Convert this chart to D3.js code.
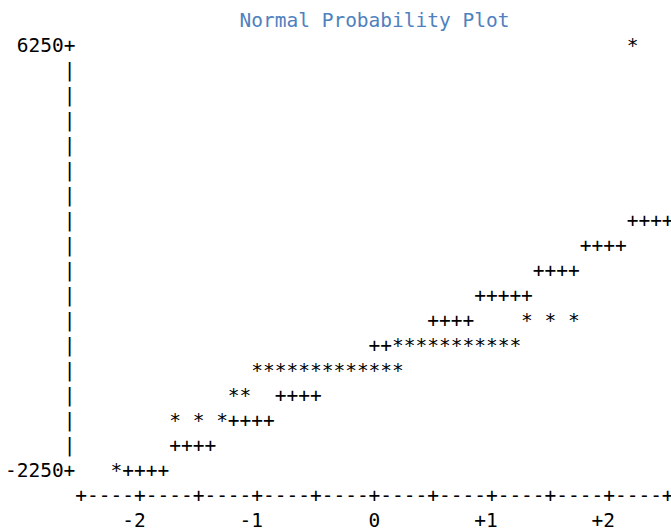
<!DOCTYPE html>
<html>
<head>
<meta charset="utf-8">
<script src="https://cdn.jsdelivr.net/npm/d3@7"></script>
<style>
  body { margin: 0; background: #fff; }
  text { font-family: "DejaVu Sans Mono", "Liberation Mono", monospace; font-size: 19.5px; }
</style>
</head>
<body>
<div id="chart"></div>
<script>
// observations (normal quantile, value) -> drawn as '*'
var obsZ = [-2.2,
  -1.7, -1.5, -1.3,
  -1.2, -1.1,
  -1.0, -0.9, -0.8, -0.7, -0.6, -0.5, -0.4, -0.3, -0.2, -0.1, 0.0, 0.1, 0.2,
  0.2, 0.3, 0.4, 0.5, 0.6, 0.7, 0.8, 0.9, 1.0, 1.1, 1.2,
  1.3, 1.5, 1.7,
  2.2];
var obsY = [-2250,
  -1250, -1250, -1250,
  -750, -750,
  -250, -250, -250, -250, -250, -250, -250, -250, -250, -250, -250, -250, -250,
  250, 250, 250, 250, 250, 250, 250, 250, 250, 250, 250,
  750, 750, 750,
  6250];

var refY  = [-2250, -1750, -1250, -750, -250, 250, 750, 1250, 1750, 2250, 2750];
var refZ0 = [-2.2, -1.7, -1.3, -0.8, -0.4, 0.0, 0.5, 0.9, 1.4, 1.8, 2.2];
var refZ1 = [-1.8, -1.4, -0.9, -0.5, -0.1, 0.4, 0.8, 1.3, 1.7, 2.1, 2.5];

var xTicks = [-2, -1, 0, 1, 2];
var xTickLabels = ["-2", "-1", "0", "+1", "+2"];
var yTicks = [6250, -2250];
var yTickLabels = ["6250", "-2250"];
var title = "Normal Probability Plot";

var width = 671, height = 531;
var cw = 11.73, x0 = 5;             // character cell width / left offset
var rh = 25, firstBase = 51.7;      // row height / baseline of first plot row
function colX(c) { return x0 + (c + 0.5) * cw; }
function rowY(r) { return firstBase + r * rh; }

var svg = d3.select("#chart").append("svg")
    .attr("width", width)
    .attr("height", height);

var xScale = d3.scaleLinear().domain([-2.5, 2.5]).range([colX(6), colX(56)]);
var yScale = d3.scaleLinear().domain([6250, -2250]).range([rowY(0), rowY(17)]);
var rowStep = 500, zStep = 0.1;

// grid of cells: '+' first, '*' overwrite
var cells = new Map();
refY.forEach(function(v, i) {
  var n = Math.round((refZ1[i] - refZ0[i]) / zStep);
  for (var k = 0; k <= n; k++) {
    var z = +(refZ0[i] + k * zStep).toFixed(1);
    cells.set(z + "|" + v, {z: z, v: v, ch: "+"});
  }
});
obsZ.forEach(function(z, i) {
  cells.set(z + "|" + obsY[i], {z: z, v: obsY[i], ch: "*"});
});

svg.append("g").selectAll("text")
    .data(Array.from(cells.values()))
   .enter()
    .append("text")
    .attr("x", function(d) { return xScale(d.z); })
    .attr("y", function(d) { return yScale(d.v); })
    .attr("text-anchor", "middle")
    .attr("fill", "#000")
    .text(function(d) { return d.ch; });

// vertical axis: '|' between the end labels, '+' at labels
var axisX = colX(5);
var yRows = d3.range(6250 - rowStep, -2250, -rowStep);
svg.append("g").selectAll("text")
    .data(yRows)
   .enter()
    .append("text")
    .attr("x", axisX)
    .attr("y", function(d) { return yScale(d); })
    .attr("text-anchor", "middle")
    .text("|");

svg.append("g").selectAll("text")
    .data(yTicks)
   .enter()
    .append("text")
    .attr("x", axisX + cw / 2)
    .attr("y", function(d) { return yScale(d); })
    .attr("text-anchor", "end")
    .text(function(d, i) { return yTickLabels[i] + "+"; });

// horizontal axis: +----+----+ one row below the plot
var axisY = yScale(-2250 - rowStep);
var xCols = d3.range(-2.5, 2.5001, zStep).map(function(z) { return +z.toFixed(1); });
svg.append("g").selectAll("text")
    .data(xCols)
   .enter()
    .append("text")
    .attr("x", function(d) { return xScale(d); })
    .attr("y", axisY)
    .attr("text-anchor", "middle")
    .text(function(d) { return Math.abs(d * 2 - Math.round(d * 2)) < 1e-6 ? "+" : "-"; });

// tick labels: last digit sits under its '+'
svg.append("g").selectAll("text")
    .data(xTicks)
   .enter()
    .append("text")
    .attr("x", function(d) { return xScale(d) + cw / 2; })
    .attr("y", axisY + rh)
    .attr("text-anchor", "end")
    .text(function(d, i) { return xTickLabels[i]; });

svg.append("text")
    .attr("x", colX(31))
    .attr("y", rowY(-1))
    .attr("text-anchor", "middle")
    .attr("fill", "#4f81bd")
    .text(title);
</script>
</body>
</html>
